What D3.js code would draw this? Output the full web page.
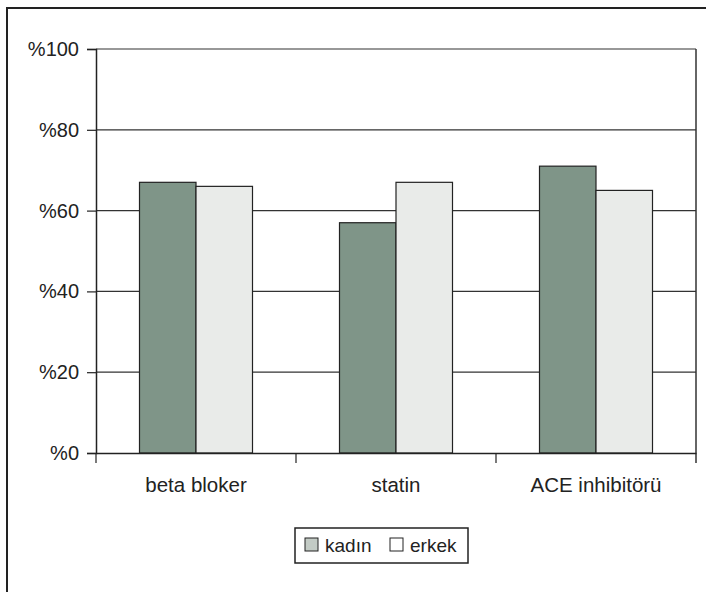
<!DOCTYPE html>
<html>
<head>
<meta charset="utf-8">
<script src="https://cdn.jsdelivr.net/npm/d3@7"></script>
<style>
  html, body { margin: 0; padding: 0; background: #fff; }
  svg { display: block; font-family: "Liberation Sans", Arial, sans-serif; }
</style>
</head>
<body>
<svg id="chart" width="706" height="592"></svg>
<script>
// Treatment usage by sex (percent)
const categories = ["beta bloker", "statin", "ACE inhibitörü"];
const seriesNames = ["kadın", "erkek"];
const kadin = [67, 57, 71];
const erkek = [66, 67, 65];
const yTicks = [0, 20, 40, 60, 80, 100];

const colors = { "kadın": "#7f9588", "erkek": "#e9ebe9" };
const legendSwatch = { "kadın": "#c3cbc5", "erkek": "#ffffff" };

const svg = d3.select("#chart");
const plot = { left: 96, right: 696, top: 49, bottom: 453 };
const ink = "#222";
const fontFamily = "Liberation Sans, Arial, sans-serif";

// Outer frame
svg.append("rect")
  .attr("x", 7).attr("y", 8).attr("width", 703).attr("height", 600)
  .attr("fill", "none").attr("stroke", ink).attr("stroke-width", 2);

const x = d3.scaleBand().domain(categories)
  .range([plot.left, plot.right]).paddingInner(0).paddingOuter(0);
const y = d3.scaleLinear().domain([0, 100]).range([plot.bottom, plot.top]);

const groupWidth = x.bandwidth() * 0.565;
const xs = d3.scaleBand().domain(seriesNames)
  .range([0, groupWidth]).padding(0);

// Gridlines
svg.append("g")
  .selectAll("line")
  .data(yTicks.filter(t => t > 0))
  .join("line")
  .attr("x1", plot.left).attr("x2", plot.right)
  .attr("y1", d => y(d)).attr("y2", d => y(d))
  .attr("stroke", "#333").attr("stroke-width", 1.2);

// Right edge of the plot area
svg.append("line")
  .attr("x1", plot.right).attr("x2", plot.right)
  .attr("y1", plot.top).attr("y2", plot.bottom + 10)
  .attr("stroke", "#333").attr("stroke-width", 1.5);

// Bars
const rows = categories.map((c, i) => ({ cat: c, values: [
  { key: "kadın", value: kadin[i] },
  { key: "erkek", value: erkek[i] }
]}));

const groups = svg.append("g").selectAll("g")
  .data(rows).join("g")
  .attr("transform", d => `translate(${x(d.cat) + (x.bandwidth() - groupWidth) / 2},0)`);

groups.selectAll("rect")
  .data(d => d.values).join("rect")
  .attr("x", d => xs(d.key))
  .attr("y", d => y(d.value))
  .attr("width", xs.bandwidth())
  .attr("height", d => y(0) - y(d.value))
  .attr("fill", d => colors[d.key])
  .attr("stroke", ink).attr("stroke-width", 1.2);

// Y axis
const yAxis = d3.axisLeft(y).tickValues(yTicks)
  .tickFormat(d => "%" + d).tickSize(9).tickPadding(8);
const gy = svg.append("g").attr("transform", `translate(${plot.left},0)`).call(yAxis);
gy.select(".domain").attr("stroke", ink).attr("stroke-width", 1.5);
gy.selectAll(".tick line").attr("stroke", ink).attr("stroke-width", 1.2);
gy.selectAll("text").attr("font-size", 20).attr("fill", ink)
  .attr("font-family", fontFamily);

// X axis: ticks sit between categories
const xAxis = d3.axisBottom(x).tickSize(0).tickPadding(22);
const gx = svg.append("g").attr("transform", `translate(0,${plot.bottom})`).call(xAxis);
gx.select(".domain").attr("stroke", ink).attr("stroke-width", 1.5);
gx.selectAll("text")
  .attr("font-size", 20.5).attr("fill", ink)
  .attr("font-family", fontFamily)
  .attr("dy", null).attr("y", 39);
const boundaries = categories.map(c => x(c));
svg.append("g").selectAll("line")
  .data(boundaries).join("line")
  .attr("x1", d => d).attr("x2", d => d)
  .attr("y1", plot.bottom).attr("y2", plot.bottom + 10)
  .attr("stroke", ink).attr("stroke-width", 1.2);

// Legend
const legend = svg.append("g");
legend.append("rect")
  .attr("x", 295).attr("y", 528).attr("width", 173).attr("height", 35)
  .attr("fill", "#fff").attr("stroke", ink).attr("stroke-width", 1.5);
const legendX = [305, 390];
seriesNames.forEach((name, i) => {
  legend.append("rect")
    .attr("x", legendX[i]).attr("y", 538).attr("width", 13).attr("height", 13)
    .attr("fill", legendSwatch[name]).attr("stroke", ink).attr("stroke-width", 1);
  legend.append("text")
    .attr("x", legendX[i] + 20).attr("y", 552)
    .attr("font-size", 19).attr("fill", ink)
    .attr("font-family", fontFamily)
    .text(name);
});
</script>
</body>
</html>
